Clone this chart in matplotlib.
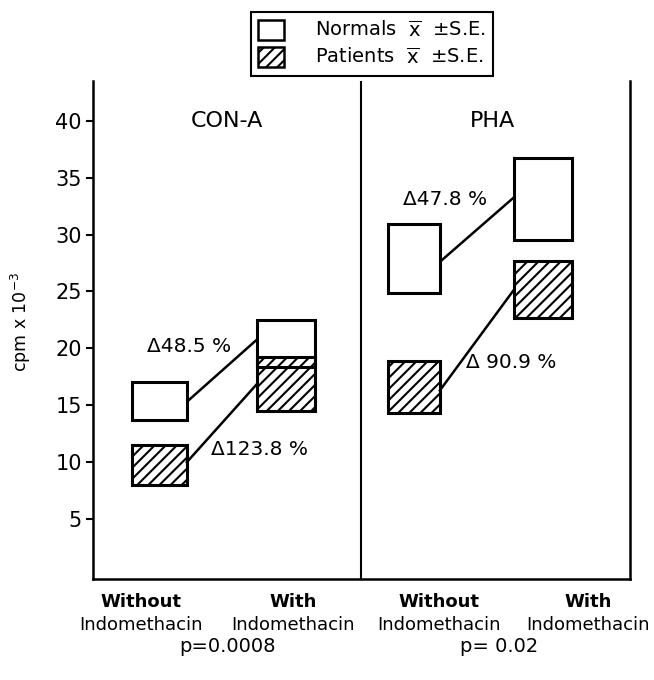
import matplotlib.pyplot as plt
from matplotlib.patches import Rectangle, Patch

# data (cpm x 10^-3)
panels = ['CON-A', 'PHA']
conditions = ['Without', 'With']
p_values = ['p=0.0008', 'p= 0.02']
# order: CON-A without, CON-A with, PHA without, PHA with
normals_low = [13.7, 18.4, 24.9, 29.5]
normals_high = [17.0, 22.5, 30.9, 36.7]
normals_mean = [15.3, 20.8, 27.6, 33.3]
patients_low = [8.0, 14.5, 14.3, 22.7]
patients_high = [11.5, 19.2, 18.9, 27.7]
patients_mean = [10.0, 16.9, 16.3, 25.2]
normals_change = ['Δ48.5 %', 'Δ47.8 %']
patients_change = ['Δ123.8 %', 'Δ 90.9 %']

plt.rcParams['font.family'] = ['DejaVu Sans']
plt.rcParams['hatch.linewidth'] = 1.5

fig = plt.figure(figsize=(6.54, 6.80), dpi=100)
ax = fig.add_axes([0.142, 0.148, 0.821, 0.733])

box_x = [0.495, 1.44, 2.39, 3.355]
box_w = [0.41, 0.43, 0.39, 0.43]
lw = 2.2

# normals first (white), patients on top with hatch only
for i in range(4):
    ax.add_patch(Rectangle((box_x[i] - box_w[i] / 2, normals_low[i]), box_w[i],
                           normals_high[i] - normals_low[i], facecolor='white',
                           edgecolor='black', lw=lw, zorder=2))
for i in range(4):
    ax.add_patch(Rectangle((box_x[i] - box_w[i] / 2, patients_low[i]), box_w[i],
                           patients_high[i] - patients_low[i], facecolor='none',
                           edgecolor='black', hatch='///', lw=lw, zorder=3))

# connecting lines between means
for k in range(2):
    a, b = 2 * k, 2 * k + 1
    xa = box_x[a] + box_w[a] / 2
    xb = box_x[b] - box_w[b] / 2
    ax.plot([xa, xb], [normals_mean[a], normals_mean[b]], color='black', lw=1.8, zorder=1)
    ax.plot([xa, xb], [patients_mean[a], patients_mean[b]], color='black', lw=1.8, zorder=1)

# percent change labels
ax.text(0.405, 20.15, normals_change[0], fontsize=14.5, va='center', ha='left')
ax.text(0.88, 11.07, patients_change[0], fontsize=14.5, va='center', ha='left')
ax.text(2.31, 33.1, normals_change[1], fontsize=14.5, va='center', ha='left')
ax.text(2.78, 18.8, patients_change[1], fontsize=14.5, va='center', ha='left')

# panel titles
ax.text(1.0, 40, panels[0], fontsize=16, ha='center', va='center')
ax.text(2.98, 40, panels[1], fontsize=16, ha='center', va='center')

ax.axvline(2, color='black', lw=1.5)
ax.set_xlim(0, 4)
ax.set_ylim(-0.3, 43.5)
ax.spines['top'].set_visible(False)
for s in ['left', 'right', 'bottom']:
    ax.spines[s].set_linewidth(1.8)
ax.set_xticks([])
ax.set_yticks([5, 10, 15, 20, 25, 30, 35, 40])
ax.tick_params(axis='y', direction='out', length=5, width=1.5, labelsize=15, pad=3)
fig.text(0.032, 1 - 322 / 680, 'cpm x 10$^{-3}$', rotation=90, fontsize=12.5,
         ha='center', va='center')

# x labels under the axis
tr = ax.get_xaxis_transform()
cond_x = [0.36, 1.49, 2.58, 3.69]
for i, cx in enumerate(cond_x):
    ax.annotate(conditions[i % 2], (cx, 0), xycoords=tr, xytext=(0, -23),
                textcoords='offset pixels', ha='center', va='center',
                fontsize=13, fontweight='bold')
    ax.annotate('Indomethacin', (cx, 0), xycoords=tr, xytext=(0, -46),
                textcoords='offset pixels', ha='center', va='center', fontsize=13)
for k, px in enumerate([1.0, 3.03]):
    ax.annotate(p_values[k], (px, 0), xycoords=tr, xytext=(0, -67),
                textcoords='offset pixels', ha='center', va='center', fontsize=14)

handles = [Patch(facecolor='white', edgecolor='black', lw=1.8),
           Patch(facecolor='white', edgecolor='black', hatch='///', lw=1.8)]
labels = [r'Normals  $\overline{\mathrm{x}}$  $\pm$S.E.',
          r'Patients  $\overline{\mathrm{x}}$  $\pm$S.E.']
leg = fig.legend(handles, labels, loc='upper center', bbox_to_anchor=(372 / 654, 1 - 12 / 680),
                 fontsize=14, frameon=True, fancybox=False, edgecolor='black',
                 framealpha=1, handlelength=1.3, handleheight=1.2, borderpad=0.4,
                 labelspacing=0.35, handletextpad=1.6, borderaxespad=0)
leg.get_frame().set_linewidth(1.5)

fig.savefig('out.png', dpi=100)
